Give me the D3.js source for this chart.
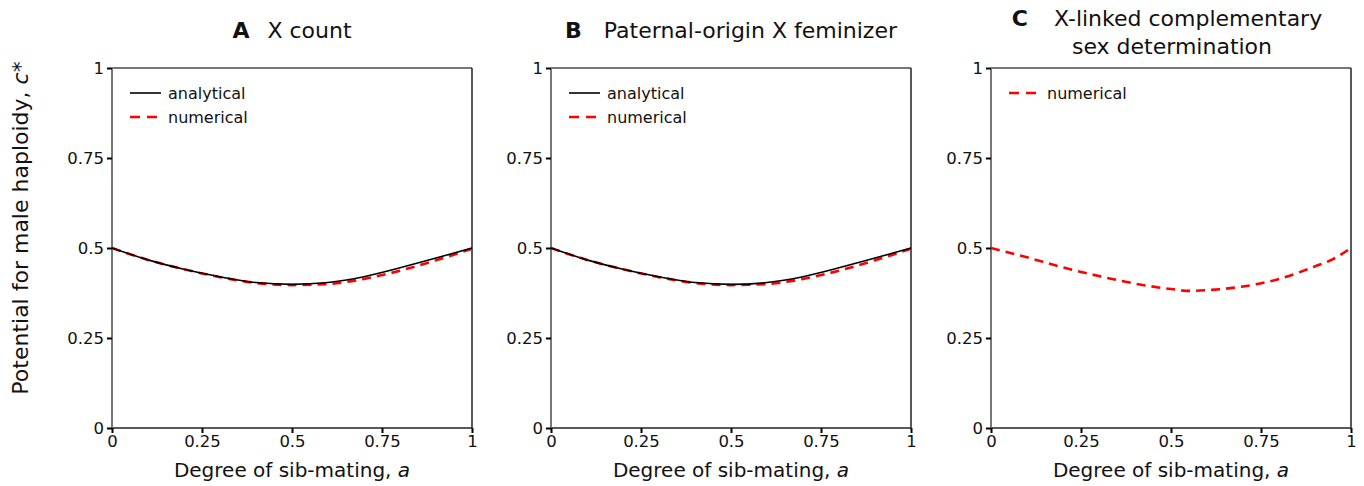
<!DOCTYPE html>
<html>
<head>
<meta charset="utf-8">
<script src="https://cdn.jsdelivr.net/npm/d3@7"></script>
<style>
  body { margin: 0; background: #fff; }
  svg text { font-family: "DejaVu Sans", "Liberation Sans", sans-serif; fill: #111; }
</style>
</head>
<body>
<div id="chart"></div>
<script>
const W = 1364, H = 486;

// sib-mating degree a
const aValues = [0, 0.1, 0.2, 0.3, 0.4, 0.5, 0.6, 0.7, 0.8, 0.9, 1];
const aValuesC = [0, 0.1, 0.2, 0.3, 0.4, 0.5, 0.55, 0.6, 0.7, 0.8, 0.9, 0.95, 1];

// panel A: X count
const countAnalytical = [0.5, 0.467, 0.441, 0.420, 0.404, 0.399, 0.404, 0.420, 0.445, 0.472, 0.5];
const countNumerical = [0.5, 0.467, 0.441, 0.419, 0.403, 0.397, 0.400, 0.414, 0.437, 0.466, 0.498];
// panel B: paternal-origin X feminizer
const femAnalytical = [0.5, 0.467, 0.441, 0.420, 0.404, 0.399, 0.404, 0.420, 0.445, 0.472, 0.5];
const femNumerical = [0.5, 0.467, 0.441, 0.419, 0.403, 0.397, 0.400, 0.414, 0.437, 0.466, 0.498];
// panel C: X-linked CSD (numerical only)
const csdNumerical = [0.5, 0.474, 0.446, 0.422, 0.401, 0.386, 0.381, 0.383, 0.393, 0.414, 0.449, 0.469, 0.5];

const xTicks = [0, 0.25, 0.5, 0.75, 1];
const yTicks = [0, 0.25, 0.5, 0.75, 1];
const fmt = d => String(d);

const panels = [
  { letter: "A", title: ["X count"], left: 112, gap: 18,
    series: [{ name: "analytical", x: aValues, y: countAnalytical },
             { name: "numerical", x: aValues, y: countNumerical }] },
  { letter: "B", title: ["Paternal-origin X feminizer"], left: 551, gap: 22,
    series: [{ name: "analytical", x: aValues, y: femAnalytical },
             { name: "numerical", x: aValues, y: femNumerical }] },
  { letter: "C", title: ["X-linked complementary", "sex determination"], left: 991, gap: 26,
    series: [{ name: "numerical", x: aValuesC, y: csdNumerical }] }
];

const PW = 360, PH = 360, TOP = 68;

const svg = d3.select("#chart").append("svg")
  .attr("width", W).attr("height", H);

const styles = {
  analytical: { stroke: "#000", width: 1.6, dash: null },
  numerical: { stroke: "#ff0000", width: 2.6, dash: "9,6" }
};

panels.forEach((p, pi) => {
  const g = svg.append("g").attr("transform", `translate(${p.left},${TOP})`);
  const x = d3.scaleLinear().domain([0, 1]).range([0, PW]);
  const y = d3.scaleLinear().domain([0, 1]).range([PH, 0]);

  // frame: grey top/left, darker right/bottom
  g.append("line").attr("x1", 0).attr("x2", PW).attr("y1", 0).attr("y2", 0)
    .attr("stroke", "#777").attr("stroke-width", 2);
  g.append("line").attr("x1", PW).attr("x2", PW).attr("y1", 0).attr("y2", PH)
    .attr("stroke", "#222").attr("stroke-width", 1.5);
  g.append("line").attr("x1", 0).attr("x2", PW).attr("y1", PH).attr("y2", PH)
    .attr("stroke", "#222").attr("stroke-width", 1.5);
  g.append("line").attr("x1", 0).attr("x2", 0).attr("y1", 0).attr("y2", PH)
    .attr("stroke", "#777").attr("stroke-width", 2);

  const xAxis = g.append("g").attr("transform", `translate(0,${PH})`)
    .call(d3.axisBottom(x).tickValues(xTicks).tickFormat(fmt).tickSize(5).tickSizeOuter(0));
  const yAxis = g.append("g")
    .call(d3.axisLeft(y).tickValues(yTicks).tickFormat(fmt).tickSize(5).tickSizeOuter(0));
  [xAxis, yAxis].forEach(ax => {
    ax.select(".domain").remove();
    ax.selectAll(".tick line").attr("stroke", "#000").attr("stroke-width", 2);
    ax.selectAll(".tick text").style("font-size", "16.5px").attr("fill", "#222");
  });
  xAxis.selectAll(".tick text").attr("dy", "0.6em").attr("y", 9);
  yAxis.selectAll(".tick text").attr("x", -8);

  // curves
  const line = d3.line().curve(d3.curveMonotoneX);
  p.series.forEach(s => {
    const st = styles[s.name];
    const pts = s.x.map((v, i) => [x(v), y(s.y[i])]);
    g.append("path").attr("d", line(pts)).attr("fill", "none")
      .attr("stroke", st.stroke).attr("stroke-width", st.width)
      .attr("stroke-dasharray", st.dash);
  });
  // analytical on top of numerical
  g.selectAll("path").filter(function() { return !this.getAttribute("stroke-dasharray"); }).raise();

  // legend
  const lg = g.append("g").attr("transform", "translate(18,25)");
  p.series.forEach((s, i) => {
    const st = styles[s.name];
    lg.append("line").attr("x1", 0).attr("x2", 31).attr("y1", i * 24).attr("y2", i * 24)
      .attr("stroke", st.stroke).attr("stroke-width", st.width)
      .attr("stroke-dasharray", st.dash ? "10,7" : null);
    lg.append("text").attr("x", 38).attr("y", i * 24).attr("dy", "0.35em")
      .style("font-size", "16px").text(s.name);
  });

  // title
  if (p.title.length === 1) {
    const t = g.append("text").attr("x", PW / 2).attr("y", -30)
      .attr("text-anchor", "middle").style("font-size", "22px");
    t.append("tspan").style("font-weight", "bold").text(p.letter);
    t.append("tspan").attr("dx", p.gap).text(p.title[0]);
  } else {
    const t = g.append("text").attr("x", PW / 2 - 4).attr("y", -42)
      .attr("text-anchor", "middle").style("font-size", "22px");
    t.append("tspan").style("font-weight", "bold").text(p.letter);
    t.append("tspan").attr("dx", p.gap).text(p.title[0]);
    g.append("text").attr("x", PW / 2 + 1).attr("y", -14)
      .attr("text-anchor", "middle").style("font-size", "22px").text(p.title[1]);
  }

  // x label
  const xl = g.append("text").attr("x", PW / 2).attr("y", PH + 49)
    .attr("text-anchor", "middle").style("font-size", "20px");
  xl.append("tspan").text("Degree of sib-mating, ");
  xl.append("tspan").style("font-style", "italic").text("a");

  if (pi === 0) {
    const yl = g.append("text")
      .attr("transform", `translate(${-84},${PH / 2 - 20}) rotate(-90)`)
      .attr("text-anchor", "middle").style("font-size", "22px");
    yl.append("tspan").text("Potential for male haploidy, ");
    yl.append("tspan").style("font-style", "italic").text("c");
    yl.append("tspan").text("*");
  }
});
</script>
</body>
</html>
